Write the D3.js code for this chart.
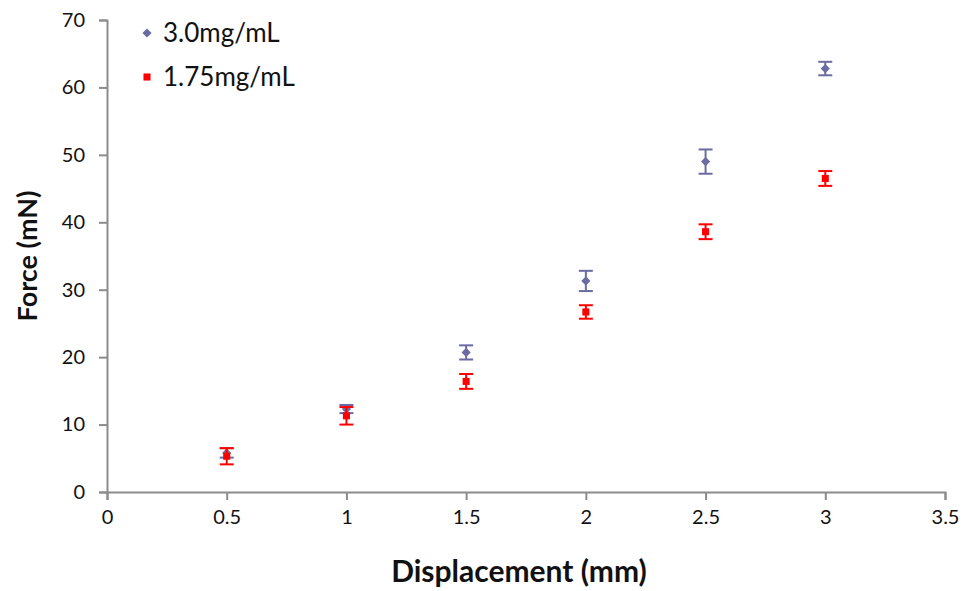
<!DOCTYPE html>
<html>
<head>
<meta charset="utf-8">
<script src="https://cdn.jsdelivr.net/npm/d3@7"></script>
<style>
  body { margin: 0; background: #fff; }
  text { font-family: Lato, "Open Sans", sans-serif; fill: #111; }
</style>
</head>
<body>
<div id="chart"></div>
<script>
var displacement = [0.5, 1, 1.5, 2, 2.5, 3];
var force30 = [5.8, 12.3, 20.7, 31.3, 49.0, 62.8];
var err30 = [0.7, 0.6, 1.05, 1.5, 1.8, 1.0];
var force175 = [5.3, 11.3, 16.4, 26.7, 38.6, 46.5];
var err175 = [1.2, 1.3, 1.1, 1.0, 1.1, 1.1];
var xTicks = [0, 0.5, 1, 1.5, 2, 2.5, 3, 3.5];
var yTicks = [0, 10, 20, 30, 40, 50, 60, 70];

var width = 966, height = 591;
var svg = d3.select("#chart").append("svg")
  .attr("width", width).attr("height", height);

var x = d3.scaleLinear().domain([0, 3.5]).range([107, 945]);
var y = d3.scaleLinear().domain([0, 70]).range([492, 20]);

var axisColor = "#8c8c8c";

// x axis
var xAxis = svg.append("g")
  .attr("transform", "translate(0," + y(0) + ")")
  .call(d3.axisBottom(x).tickValues(xTicks).tickSize(8).tickPadding(10)
    .tickFormat(function(d){ return d; }));
xAxis.select(".domain").attr("stroke", axisColor).attr("stroke-width", 2);
xAxis.selectAll(".tick line").attr("stroke", axisColor).attr("stroke-width", 2);
xAxis.selectAll("text").style("font-size", "20px").attr("fill", "#111");

// y axis
var yAxis = svg.append("g")
  .attr("transform", "translate(" + x(0) + ",0)")
  .call(d3.axisLeft(y).tickValues(yTicks).tickSize(8).tickPadding(14));
yAxis.select(".domain").attr("stroke", axisColor).attr("stroke-width", 2);
yAxis.selectAll(".tick line").attr("stroke", axisColor).attr("stroke-width", 2);
yAxis.selectAll("text").style("font-size", "20px").attr("fill", "#111");

// axis titles
svg.append("text")
  .attr("x", 519).attr("y", 582)
  .attr("text-anchor", "middle")
  .style("font-size", "30px").style("font-weight", "bold")
  .text("Displacement (mm)");
svg.append("text")
  .attr("transform", "translate(37,256) rotate(-90)")
  .attr("text-anchor", "middle")
  .style("font-size", "27px").style("font-weight", "bold")
  .text("Force (mN)");

var series = [
  { name: "3.0mg/mL", vals: force30, errs: err30, color: "#6b6ba3", shape: d3.symbolSquare, size: 42, rot: 45 },
  { name: "1.75mg/mL", vals: force175, errs: err175, color: "#ff0000", shape: d3.symbolSquare, size: 50, rot: 0 }
];

series.forEach(function(s){
  var pts = displacement.map(function(d, i){ return { x: d, y: s.vals[i], e: s.errs[i] }; });
  var g = svg.append("g");
  var eb = g.selectAll(".eb").data(pts).enter().append("g");
  eb.append("line")
    .attr("x1", function(d){ return x(d.x); }).attr("x2", function(d){ return x(d.x); })
    .attr("y1", function(d){ return y(d.y + d.e); }).attr("y2", function(d){ return y(d.y - d.e); })
    .attr("stroke", s.color).attr("stroke-width", 2);
  [1, -1].forEach(function(sign){
    eb.append("line")
      .attr("x1", function(d){ return x(d.x) - 7; }).attr("x2", function(d){ return x(d.x) + 7; })
      .attr("y1", function(d){ return y(d.y + sign * d.e); }).attr("y2", function(d){ return y(d.y + sign * d.e); })
      .attr("stroke", s.color).attr("stroke-width", 2);
  });
  g.selectAll(".pt").data(pts).enter().append("path")
    .attr("d", d3.symbol().type(s.shape).size(s.size))
    .attr("transform", function(d){ return "translate(" + x(d.x) + "," + y(d.y) + ") rotate(" + s.rot + ")"; })
    .attr("fill", s.color);
});

// legend
var legend = svg.append("g");
series.forEach(function(s, i){
  var ly = 33 + i * 44;
  legend.append("path")
    .attr("d", d3.symbol().type(s.shape).size(s.size))
    .attr("transform", "translate(147," + ly + ") rotate(" + s.rot + ")")
    .attr("fill", s.color);
  legend.append("text")
    .attr("x", 163).attr("y", ly + 9)
    .style("font-size", "26px")
    .text(s.name);
});
</script>
</body>
</html>
